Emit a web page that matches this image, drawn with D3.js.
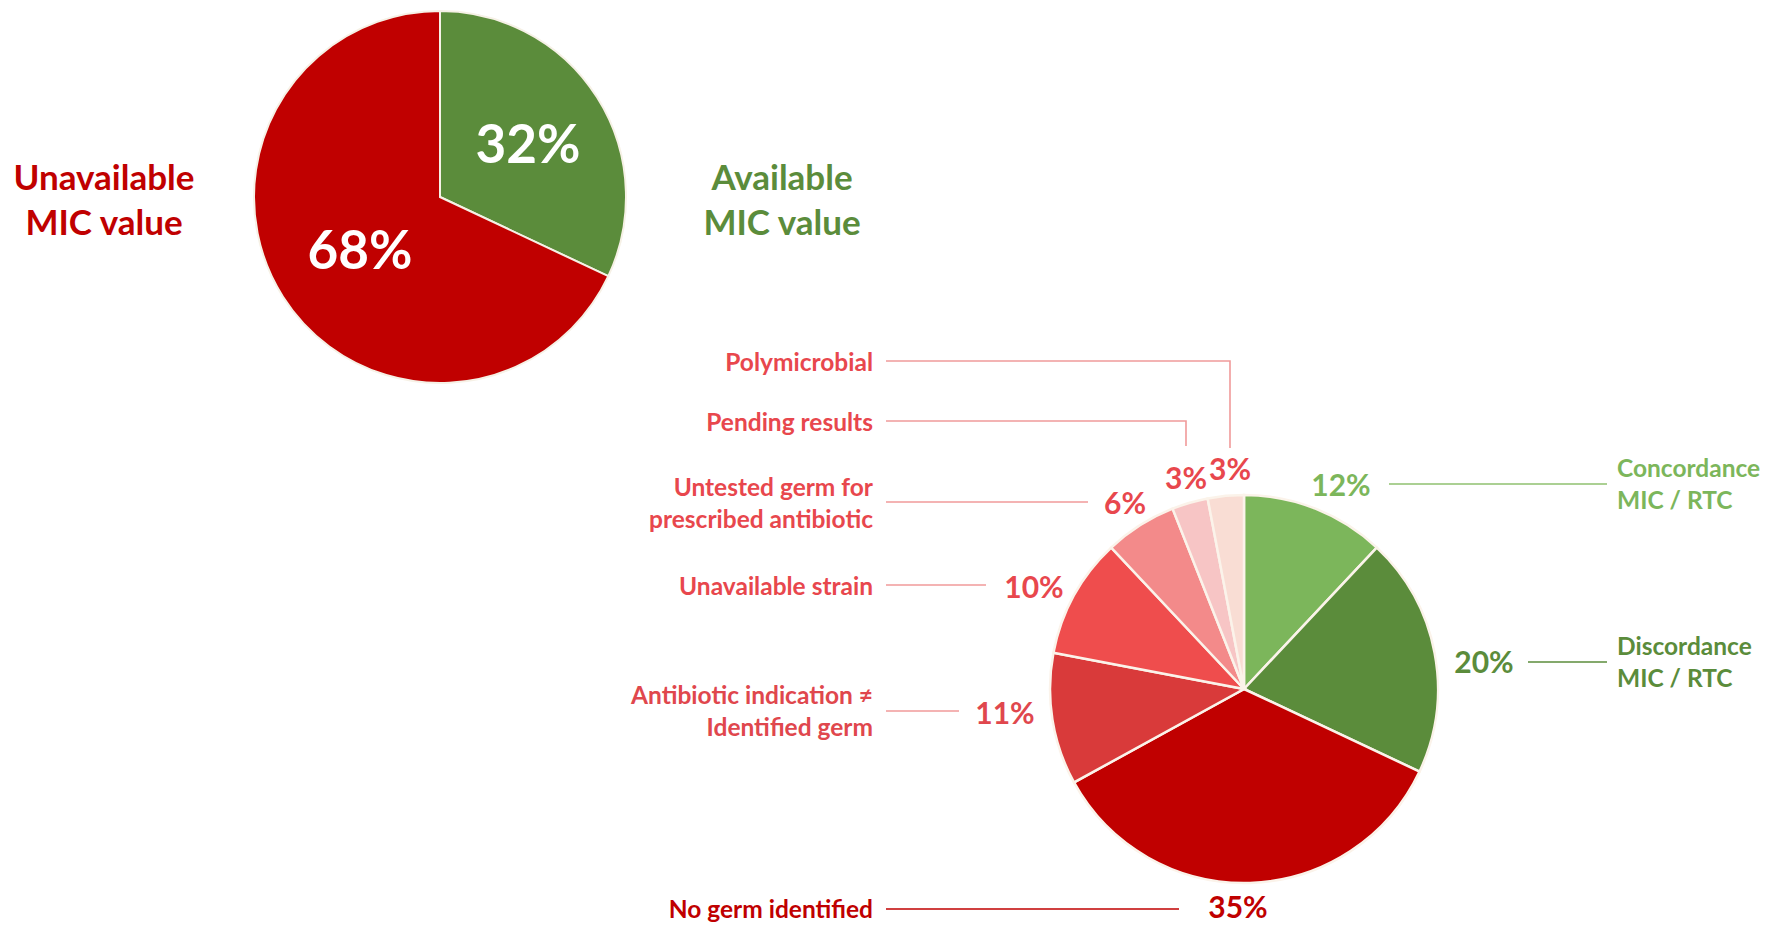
<!DOCTYPE html>
<html>
<head>
<meta charset="utf-8">
<script src="https://cdn.jsdelivr.net/npm/d3@7"></script>
<style>
  html, body { margin: 0; padding: 0; background: #ffffff; }
  svg { display: block; }
  text { font-family: Lato, "Open Sans", "DejaVu Sans", sans-serif; font-weight: 700; }
</style>
</head>
<body>
<svg id="chart" width="1777" height="925"></svg>
<script>
// ---------- DATA ----------
const topCategories = ["Available MIC value", "Unavailable MIC value"];
const topValues = [32, 68];
const topColors = ["#5b8c3b", "#c00000"];

const subCategories = [
  "Concordance MIC / RTC",
  "Discordance MIC / RTC",
  "No germ identified",
  "Antibiotic indication ≠ Identified germ",
  "Unavailable strain",
  "Untested germ for prescribed antibiotic",
  "Pending results",
  "Polymicrobial"
];
const subValues = [12, 20, 35, 11, 10, 6, 3, 3];
const subColors = ["#7cb65b", "#5b8c3b", "#c00000", "#d93a3a", "#ef4d4d", "#f38a8a", "#f7c5c5", "#f9ddd4"];
const subTextColors = ["#7cb65b", "#5b8c3b", "#c00000", "#e0474d", "#e8474d", "#e8474d", "#e8474d", "#e8474d"];
const subLineColors = ["#8fc06f", "#5b8c3b", "#c00000", "#f09a9a", "#f09a9a", "#f09a9a", "#f09a9a", "#f09a9a"];

// ---------- LAYOUT ----------
const svg = d3.select("#chart");

const topPie = { cx: 440, cy: 197, r: 186 };
const subPie = { cx: 1244, cy: 689, r: 194 };

const pieGen = d3.pie().sort(null).value(d => d);

// Top pie
const gTop = svg.append("g").attr("transform", `translate(${topPie.cx},${topPie.cy})`);
const topArc = d3.arc().innerRadius(0).outerRadius(topPie.r);
const topArcs = pieGen(topValues);
gTop.selectAll("path").data(topArcs).enter().append("path")
  .attr("d", topArc)
  .attr("fill", (d, i) => topColors[i])
  .attr("stroke", "#f6f1e6").attr("stroke-width", 2);

const topLabelPos = [[88, -55], [-80, 51]];
gTop.selectAll("text.pct").data(topArcs).enter().append("text")
  .attr("class", "pct")
  .attr("x", (d, i) => topLabelPos[i][0])
  .attr("y", (d, i) => topLabelPos[i][1])
  .attr("text-anchor", "middle").attr("dominant-baseline", "central")
  .attr("fill", "#ffffff").attr("font-size", 53)
  .text(d => d.value + "%");

const topSideLabels = [
  { x: 782, y: 176, lines: ["Available", "MIC value"] },
  { x: 104, y: 176, lines: ["Unavailable", "MIC value"] }
];
topSideLabels.forEach((l, i) => {
  const t = svg.append("text")
    .attr("x", l.x).attr("y", l.y)
    .attr("text-anchor", "middle").attr("dominant-baseline", "central")
    .attr("fill", topColors[i]).attr("font-size", 35);
  l.lines.forEach((ln, k) => t.append("tspan").attr("x", l.x).attr("dy", k === 0 ? 0 : 45).text(ln));
});

// Bottom pie
const gSub = svg.append("g").attr("transform", `translate(${subPie.cx},${subPie.cy})`);
const subArc = d3.arc().innerRadius(0).outerRadius(subPie.r);
const subArcs = pieGen(subValues);
gSub.selectAll("path").data(subArcs).enter().append("path")
  .attr("d", subArc)
  .attr("fill", (d, i) => subColors[i])
  .attr("stroke", "#fbf3ea").attr("stroke-width", 2.5);

const subLayout = [
  { pct: [1341, 484], line: [[1389, 484], [1607, 484]], text: [1617, 467], lines: ["Concordance", "MIC / RTC"], anchor: "start" },
  { pct: [1484, 661], line: [[1528, 662], [1607, 662]], text: [1617, 645], lines: ["Discordance", "MIC / RTC"], anchor: "start" },
  { pct: [1238, 906], line: [[886, 909], [1179, 909]], text: [873, 908], lines: ["No germ identified"], anchor: "end" },
  { pct: [1005, 712], line: [[886, 711], [959, 711]], text: [873, 694], lines: ["Antibiotic indication ≠", "Identified germ"], anchor: "end" },
  { pct: [1034, 586], line: [[886, 585], [986, 585]], text: [873, 585], lines: ["Unavailable strain"], anchor: "end" },
  { pct: [1125, 502], line: [[886, 502], [1088, 502]], text: [873, 486], lines: ["Untested germ for", "prescribed antibiotic"], anchor: "end" },
  { pct: [1186, 477], line: [[886, 421], [1186, 421], [1186, 446]], text: [873, 421], lines: ["Pending results"], anchor: "end" },
  { pct: [1230, 468], line: [[886, 361], [1230, 361], [1230, 448]], text: [873, 361], lines: ["Polymicrobial"], anchor: "end" }
];

const lineGen = d3.line();
subArcs.forEach((a, i) => {
  const L = subLayout[i];
  svg.append("path")
    .attr("d", lineGen(L.line))
    .attr("fill", "none")
    .attr("stroke", subLineColors[i]).attr("stroke-width", 1.6);
  svg.append("text")
    .attr("x", L.pct[0]).attr("y", L.pct[1])
    .attr("text-anchor", "middle").attr("dominant-baseline", "central")
    .attr("fill", subTextColors[i]).attr("font-size", 30)
    .text(a.value + "%");
  const t = svg.append("text")
    .attr("x", L.text[0]).attr("y", L.text[1])
    .attr("text-anchor", L.anchor).attr("dominant-baseline", "central")
    .attr("fill", subTextColors[i]).attr("font-size", 24.5);
  L.lines.forEach((ln, k) => t.append("tspan").attr("x", L.text[0]).attr("dy", k === 0 ? 0 : 32).text(ln));
});
</script>
</body>
</html>
